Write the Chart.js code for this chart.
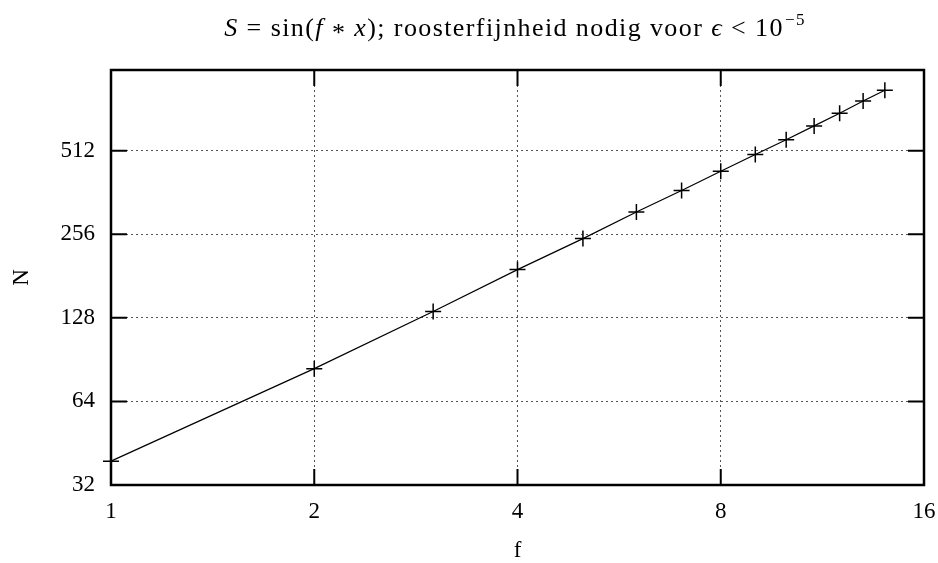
<!DOCTYPE html>
<html>
<head>
<meta charset="utf-8">
<script src="https://cdn.jsdelivr.net/npm/chart.js@4"></script>
<style>
  html, body { margin: 0; padding: 0; background: #fff; }
  #wrap { position: relative; width: 938px; height: 563px; }
  #title {
    position: absolute; left: 0; width: 1030px; top: 13px;
    text-align: center; font-family: "Liberation Serif", serif;
    font-size: 26px; color: #000; white-space: nowrap; letter-spacing: 1.4px;
  }
  #title .m { margin: 0 8px; }
  #title .ster { position: relative; top: 5px; margin: 0 8px; }
  #title sup { font-size: 17px; vertical-align: 11px; line-height: 0; margin-left: 1px; }
</style>
</head>
<body>
<div id="wrap">
  <div id="title"><i>S</i><span class="m">=</span>sin(<i>f</i><span class="ster">*</span><i>x</i>); roosterfijnheid nodig voor <i>&#1013;</i><span class="m">&lt;</span>10<sup>&minus;5</sup></div>
  <canvas id="grafiek" width="938" height="563"></canvas>
</div>
<script>
// frequentie f en benodigde roosterpunten N
const fWaarden = [1, 2, 3, 4, 5, 6, 7, 8, 9, 10, 11, 12, 13, 14];
const nWaarden = [39, 84, 135, 191, 247, 308, 368, 432, 496, 561, 629, 699, 773, 845];
const xTicks = [1, 2, 4, 8, 16];
const yTicks = [32, 64, 128, 256, 512];

const FONT = "Liberation Serif";

// kader en tickjes naar binnen, zoals gnuplot
const kaderPlugin = {
  id: "kader",
  afterDraw(chart) {
    const { ctx, chartArea: a, scales } = chart;
    const len = 16;
    ctx.save();
    ctx.strokeStyle = "#000";
    ctx.lineWidth = 2;
    scales.x.ticks.forEach((t) => {
      const px = scales.x.getPixelForValue(t.value);
      ctx.beginPath();
      ctx.moveTo(px, a.bottom); ctx.lineTo(px, a.bottom - len);
      ctx.moveTo(px, a.top); ctx.lineTo(px, a.top + len);
      ctx.stroke();
    });
    scales.y.ticks.forEach((t) => {
      const py = scales.y.getPixelForValue(t.value);
      ctx.beginPath();
      ctx.moveTo(a.left, py); ctx.lineTo(a.left + len, py);
      ctx.moveTo(a.right, py); ctx.lineTo(a.right - len, py);
      ctx.stroke();
    });
    ctx.lineWidth = 2.5;
    ctx.strokeRect(a.left, a.top, a.right - a.left, a.bottom - a.top);
    ctx.restore();
  },
};

new Chart(document.getElementById("grafiek"), {
  type: "scatter",
  data: {
    datasets: [
      {
        data: fWaarden.map((f, i) => ({ x: f, y: nWaarden[i] })),
        showLine: true,
        borderColor: "#000",
        borderWidth: 1.2,
        pointStyle: "cross",
        pointRadius: 8,
        pointBorderWidth: 1.5,
        pointBorderColor: "#000",
        clip: false,
      },
    ],
  },
  options: {
    responsive: false,
    animation: false,
    layout: { padding: { top: 70, right: 14, left: 0, bottom: 0 } },
    plugins: { legend: { display: false }, tooltip: { enabled: false } },
    scales: {
      x: {
        type: "logarithmic",
        min: 1,
        max: 16,
        afterBuildTicks: (s) => { s.ticks = xTicks.map((v) => ({ value: v })); },
        afterFit: (s) => { s.height = 78; s.paddingLeft = 0; s.paddingRight = 0; },
        ticks: {
          callback: (v) => String(v),
          color: "#000",
          font: { family: FONT, size: 23 },
          padding: 13,
          maxRotation: 0,
        },
        grid: { color: "#555", lineWidth: 1, drawTicks: false },
        border: { display: false, dash: [2, 3] },
        title: {
          display: true,
          text: "f",
          color: "#000",
          font: { family: FONT, size: 23, lineHeight: 1 },
          padding: { top: 0, bottom: 1 },
        },
      },
      y: {
        type: "logarithmic",
        min: 32,
        max: 1000,
        afterBuildTicks: (s) => { s.ticks = yTicks.map((v) => ({ value: v })); },
        afterFit: (s) => { s.width = 111; s.paddingTop = 0; s.paddingBottom = 0; },
        ticks: {
          callback: (v) => String(v),
          color: "#000",
          font: { family: FONT, size: 23 },
          padding: 16,
        },
        grid: { color: "#555", lineWidth: 1, drawTicks: false },
        border: { display: false, dash: [2, 3] },
        title: {
          display: true,
          text: "N",
          color: "#000",
          font: { family: FONT, size: 23 },
          padding: { top: 8, bottom: 0 },
        },
      },
    },
  },
  plugins: [kaderPlugin],
});
</script>
</body>
</html>
